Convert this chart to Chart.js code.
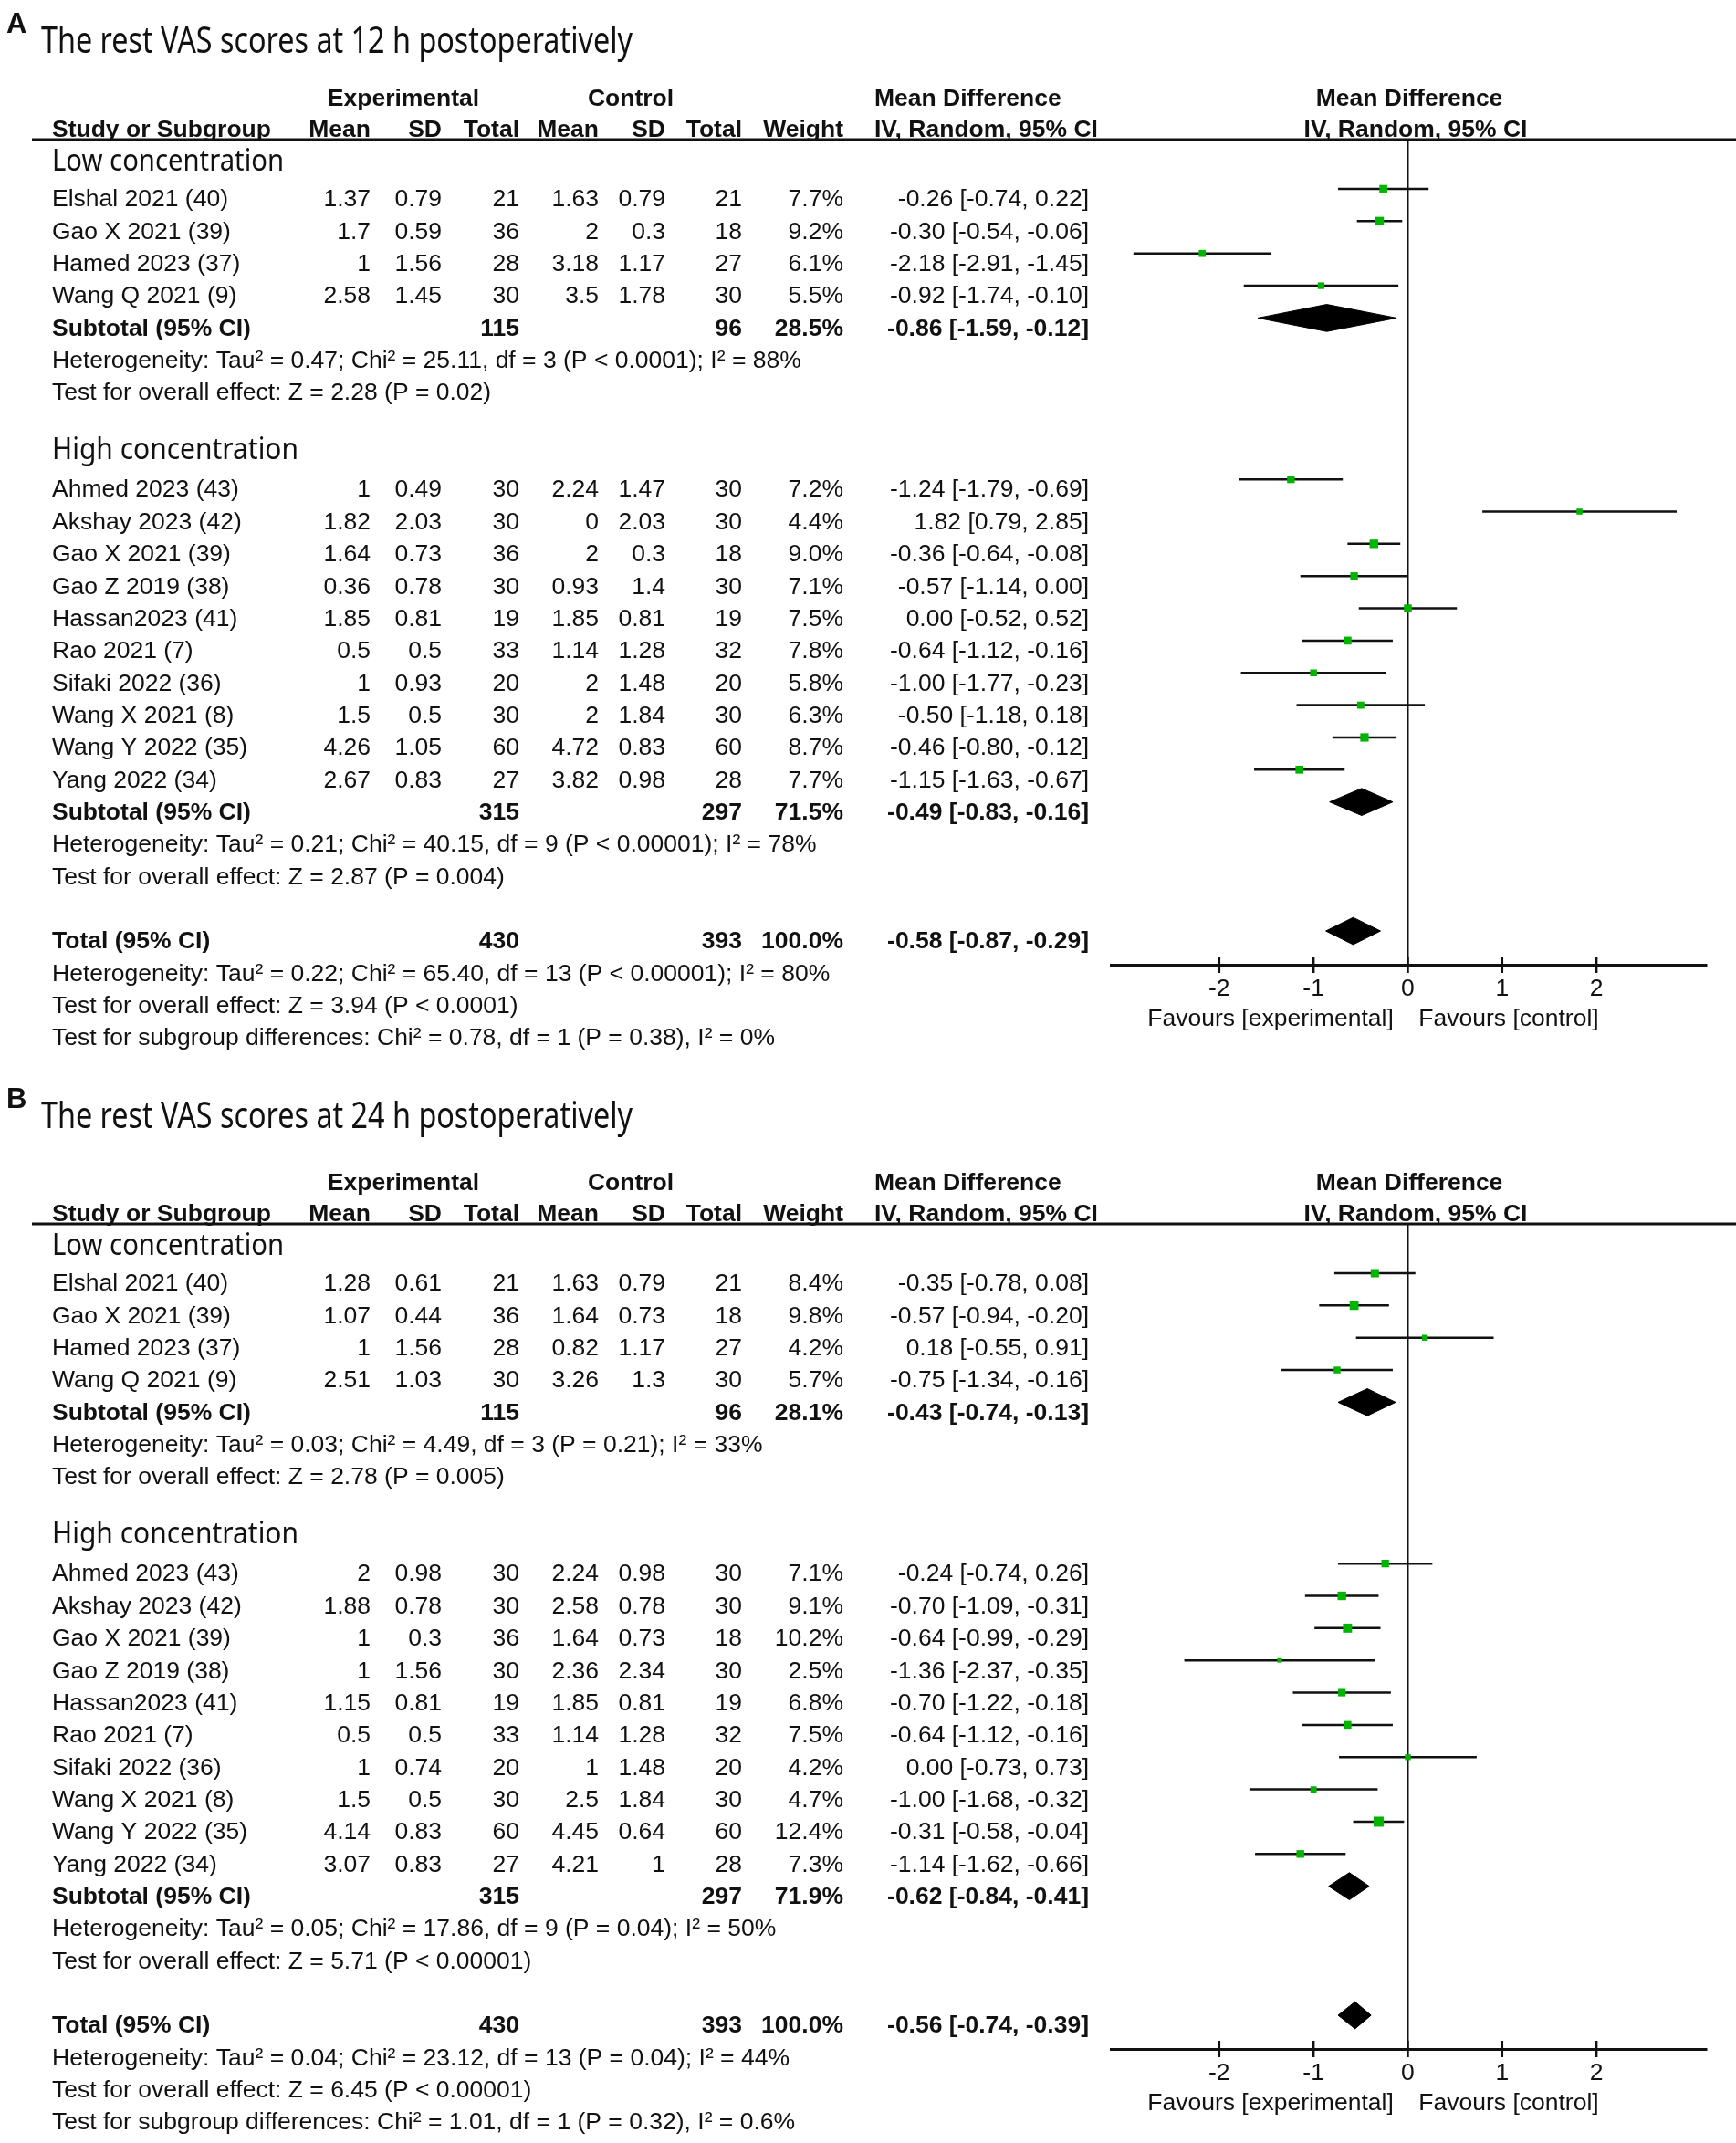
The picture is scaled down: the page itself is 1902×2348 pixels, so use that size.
<!DOCTYPE html>
<html><head><meta charset="utf-8">
<script src="https://cdn.jsdelivr.net/npm/chart.js@4.4.0/dist/chart.umd.min.js"></script>
<style>
html,body{margin:0;padding:0;background:#fff;width:1902px;height:2348px;overflow:hidden}
canvas{position:absolute;left:0}
#cA{top:0}#cB{top:1188px}
</style></head>
<body>
<canvas id="cA" width="1902" height="1188"></canvas>
<canvas id="cB" width="1902" height="1160"></canvas>
<script>
// ---------------- DATA ----------------
const lowNames = ["Elshal 2021 (40)","Gao X 2021 (39)","Hamed 2023 (37)","Wang Q 2021 (9)"];
const highNames = ["Ahmed 2023 (43)","Akshay 2023 (42)","Gao X 2021 (39)","Gao Z 2019 (38)","Hassan2023 (41)","Rao 2021 (7)","Sifaki 2022 (36)","Wang X 2021 (8)","Wang Y 2022 (35)","Yang 2022 (34)"];
const groupNames = ["Low concentration","High concentration"];
const sumLabels = ["Subtotal (95% CI)","Subtotal (95% CI)","Total (95% CI)"];
const xTicks = [-2,-1,0,1,2];
const favourLabels = ["Favours [experimental]","Favours [control]"];

// Panel A : 12 h
const h12Title = "The rest VAS scores at 12 h postoperatively";
const h12ExpMean = [1.37,1.7,1,2.58, 1,1.82,1.64,0.36,1.85,0.5,1,1.5,4.26,2.67];
const h12ExpSD   = [0.79,0.59,1.56,1.45, 0.49,2.03,0.73,0.78,0.81,0.5,0.93,0.5,1.05,0.83];
const h12ExpN    = [21,36,28,30, 30,30,36,30,19,33,20,30,60,27];
const h12CtlMean = [1.63,2,3.18,3.5, 2.24,0,2,0.93,1.85,1.14,2,2,4.72,3.82];
const h12CtlSD   = [0.79,0.3,1.17,1.78, 1.47,2.03,0.3,1.4,0.81,1.28,1.48,1.84,0.83,0.98];
const h12CtlN    = [21,18,27,30, 30,30,18,30,19,32,20,30,60,28];
const h12Weight  = [7.7,9.2,6.1,5.5, 7.2,4.4,9.0,7.1,7.5,7.8,5.8,6.3,8.7,7.7];
const h12MD      = [-0.26,-0.30,-2.18,-0.92, -1.24,1.82,-0.36,-0.57,0.00,-0.64,-1.00,-0.50,-0.46,-1.15];
const h12Lo      = [-0.74,-0.54,-2.91,-1.74, -1.79,0.79,-0.64,-1.14,-0.52,-1.12,-1.77,-1.18,-0.80,-1.63];
const h12Hi      = [0.22,-0.06,-1.45,-0.10, -0.69,2.85,-0.08,0.00,0.52,-0.16,-0.23,0.18,-0.12,-0.67];
const h12SumExpN = [115,315,430];
const h12SumCtlN = [96,297,393];
const h12SumW    = [28.5,71.5,100.0];
const h12SumMD   = [-0.86,-0.49,-0.58];
const h12SumLo   = [-1.59,-0.83,-0.87];
const h12SumHi   = [-0.12,-0.16,-0.29];
const h12Stats = [
  "Heterogeneity: Tau\u00b2 = 0.47; Chi\u00b2 = 25.11, df = 3 (P < 0.0001); I\u00b2 = 88%",
  "Test for overall effect: Z = 2.28 (P = 0.02)",
  "Heterogeneity: Tau\u00b2 = 0.21; Chi\u00b2 = 40.15, df = 9 (P < 0.00001); I\u00b2 = 78%",
  "Test for overall effect: Z = 2.87 (P = 0.004)",
  "Heterogeneity: Tau\u00b2 = 0.22; Chi\u00b2 = 65.40, df = 13 (P < 0.00001); I\u00b2 = 80%",
  "Test for overall effect: Z = 3.94 (P < 0.0001)",
  "Test for subgroup differences: Chi\u00b2 = 0.78, df = 1 (P = 0.38), I\u00b2 = 0%"
];

// Panel B : 24 h
const h24Title = "The rest VAS scores at 24 h postoperatively";
const h24ExpMean = [1.28,1.07,1,2.51, 2,1.88,1,1,1.15,0.5,1,1.5,4.14,3.07];
const h24ExpSD   = [0.61,0.44,1.56,1.03, 0.98,0.78,0.3,1.56,0.81,0.5,0.74,0.5,0.83,0.83];
const h24ExpN    = [21,36,28,30, 30,30,36,30,19,33,20,30,60,27];
const h24CtlMean = [1.63,1.64,0.82,3.26, 2.24,2.58,1.64,2.36,1.85,1.14,1,2.5,4.45,4.21];
const h24CtlSD   = [0.79,0.73,1.17,1.3, 0.98,0.78,0.73,2.34,0.81,1.28,1.48,1.84,0.64,1];
const h24CtlN    = [21,18,27,30, 30,30,18,30,19,32,20,30,60,28];
const h24Weight  = [8.4,9.8,4.2,5.7, 7.1,9.1,10.2,2.5,6.8,7.5,4.2,4.7,12.4,7.3];
const h24MD      = [-0.35,-0.57,0.18,-0.75, -0.24,-0.70,-0.64,-1.36,-0.70,-0.64,0.00,-1.00,-0.31,-1.14];
const h24Lo      = [-0.78,-0.94,-0.55,-1.34, -0.74,-1.09,-0.99,-2.37,-1.22,-1.12,-0.73,-1.68,-0.58,-1.62];
const h24Hi      = [0.08,-0.20,0.91,-0.16, 0.26,-0.31,-0.29,-0.35,-0.18,-0.16,0.73,-0.32,-0.04,-0.66];
const h24SumExpN = [115,315,430];
const h24SumCtlN = [96,297,393];
const h24SumW    = [28.1,71.9,100.0];
const h24SumMD   = [-0.43,-0.62,-0.56];
const h24SumLo   = [-0.74,-0.84,-0.74];
const h24SumHi   = [-0.13,-0.41,-0.39];
const h24Stats = [
  "Heterogeneity: Tau\u00b2 = 0.03; Chi\u00b2 = 4.49, df = 3 (P = 0.21); I\u00b2 = 33%",
  "Test for overall effect: Z = 2.78 (P = 0.005)",
  "Heterogeneity: Tau\u00b2 = 0.05; Chi\u00b2 = 17.86, df = 9 (P = 0.04); I\u00b2 = 50%",
  "Test for overall effect: Z = 5.71 (P < 0.00001)",
  "Heterogeneity: Tau\u00b2 = 0.04; Chi\u00b2 = 23.12, df = 13 (P = 0.04); I\u00b2 = 44%",
  "Test for overall effect: Z = 6.45 (P < 0.00001)",
  "Test for subgroup differences: Chi\u00b2 = 1.01, df = 1 (P = 0.32), I\u00b2 = 0.6%"
];

// ---------------- LAYOUT / STYLE ----------------
const FONT = '"Liberation Sans", Arial, Helvetica, sans-serif';
const TFONT = '"Noto Sans", "Open Sans", sans-serif';
const FS = 26.5;
const INK = '#111';
const GREEN = '#00b400';
const COL = {name:57, mean1:406, sd1:484, n1:569, mean2:656, sd2:729, n2:813, w:924, ci:1193, ciHead:958};
const TEXT_DY = 12;

function fmt(v){ return String(v); }
function f2(v){ return (Math.abs(v) < 1e-9 ? 0 : v).toFixed(2); }
function ciStr(m,l,h){ return f2(m) + ' [' + f2(l) + ', ' + f2(h) + ']'; }

function makePanel(id, letter, title, D, canvasH, titleShift) {
  const nLow = lowNames.length;
  const names = lowNames.concat(highNames);
  const rows = names.map((n,i) => i < nLow ? i : 9 + (i - nLow));
  const sumRows = [4, 19, 23];
  const statRows = [5, 6, 20, 21, 24, 25, 26];
  const headRows = [-1.19, 7.75];

  const ciData = [];
  names.forEach((n,i) => {
    ciData.push({x: D.lo[i], y: rows[i]}, {x: D.hi[i], y: rows[i]}, {x: D.hi[i], y: null});
  });
  const sqData = names.map((n,i) => ({x: D.md[i], y: rows[i]}));
  const sqRad = D.w.map(w => 2.2 * Math.sqrt(w));
  const H = 0.42;
  const diamonds = sumRows.map((k, j) => ({
    type: 'line',
    data: [{x: D.sLo[j], y: k}, {x: D.sMD[j], y: k - H}, {x: D.sHi[j], y: k}, {x: D.sMD[j], y: k + H}, {x: D.sLo[j], y: k}],
    borderColor: '#000', borderWidth: 1, backgroundColor: '#000', fill: 'shape',
    pointRadius: 0, tension: 0
  }));

  const textPlugin = {
    id: 'forestText' + id,
    afterDraw(chart) {
      const ctx = chart.ctx;
      const ys = chart.scales.y, xs = chart.scales.x, ca = chart.chartArea;
      const ty = k => ys.getPixelForValue(k) + TEXT_DY;
      ctx.save();
      ctx.fillStyle = INK;
      ctx.textBaseline = 'middle';
      const t = (s, x, y, align, bold, size, family) => {
        ctx.font = (bold ? 'bold ' : '') + (size || FS) + 'px ' + (family || FONT);
        ctx.textAlign = align; ctx.fillText(s, x, y);
      };
      const fit = (s, x, y, size, w, bold) => {
        ctx.save();
        ctx.font = (bold ? 'bold ' : '') + size + 'px ' + TFONT;
        const m = ctx.measureText(s).width;
        ctx.translate(x, y); ctx.scale(w / m, 1);
        ctx.textAlign = 'left'; ctx.textBaseline = 'alphabetic';
        ctx.fillText(s, 0, 0); ctx.restore();
      };
      // panel letter + title
      ctx.textBaseline = 'alphabetic';
      t(letter, 7, 36 + titleShift, 'left', true, 31);
      fit(title, 45, 58 + titleShift, 40, 648, false);
      ctx.textBaseline = 'middle';
      // headers
      const h1 = ty(-3.07) - 2, h2 = ty(-2.1) - 2;
      t('Experimental', 442, h1, 'center', true);
      t('Control', 691, h1, 'center', true);
      t('Mean Difference', COL.ciHead, h1, 'left', true);
      t('Mean Difference', 1544, h1, 'center', true);
      t('Study or Subgroup', COL.name, h2, 'left', true);
      t('Mean', COL.mean1, h2, 'right', true);
      t('SD', COL.sd1, h2, 'right', true);
      t('Total', COL.n1, h2, 'right', true);
      t('Mean', COL.mean2, h2, 'right', true);
      t('SD', COL.sd2, h2, 'right', true);
      t('Total', COL.n2, h2, 'right', true);
      t('Weight', COL.w, h2, 'right', true);
      t('IV, Random, 95% CI', COL.ciHead, h2, 'left', true);
      t('IV, Random, 95% CI', 1551, h2, 'center', true);
      // header rule
      ctx.strokeStyle = INK; ctx.lineWidth = 3;
      ctx.beginPath(); ctx.moveTo(35, ca.top); ctx.lineTo(1902, ca.top); ctx.stroke();
      // group headings
      ctx.textBaseline = 'alphabetic';
      fit(groupNames[0], COL.name, ty(headRows[0]) + 10, 33, 254, false);
      fit(groupNames[1], COL.name, ty(headRows[1]) + 10, 33, 270, false);
      ctx.textBaseline = 'middle';
      // study rows
      names.forEach((n, i) => {
        const y = ty(rows[i]);
        t(n, COL.name, y, 'left');
        t(fmt(D.em[i]), COL.mean1, y, 'right');
        t(fmt(D.es[i]), COL.sd1, y, 'right');
        t(fmt(D.en[i]), COL.n1, y, 'right');
        t(fmt(D.cm[i]), COL.mean2, y, 'right');
        t(fmt(D.cs[i]), COL.sd2, y, 'right');
        t(fmt(D.cn[i]), COL.n2, y, 'right');
        t(D.w[i].toFixed(1) + '%', COL.w, y, 'right');
        t(ciStr(D.md[i], D.lo[i], D.hi[i]), COL.ci, y, 'right');
      });
      // summary rows
      sumRows.forEach((k, j) => {
        const y = ty(k);
        t(sumLabels[j], COL.name, y, 'left', true);
        t(fmt(D.sEN[j]), COL.n1, y, 'right', true);
        t(fmt(D.sCN[j]), COL.n2, y, 'right', true);
        t(D.sW[j].toFixed(1) + '%', COL.w, y, 'right', true);
        t(ciStr(D.sMD[j], D.sLo[j], D.sHi[j]), COL.ci, y, 'right', true);
      });
      // statistics
      statRows.forEach((k, j) => t(D.stats[j], COL.name, ty(k), 'left'));
      // crossing tick marks
      ctx.lineWidth = 2.5;
      xTicks.forEach(v => {
        const X = xs.getPixelForValue(v);
        ctx.beginPath(); ctx.moveTo(X, ca.bottom - 9); ctx.lineTo(X, ca.bottom + 9); ctx.stroke();
      });
      // favours labels
      t(favourLabels[0], 1392, ca.bottom + 60, 'center');
      t(favourLabels[1], 1653, ca.bottom + 60, 'center');
      ctx.restore();
    }
  };

  const AXH = 60;
  return new Chart(document.getElementById(id), {
    type: 'line',
    data: {
      datasets: [
        { type: 'line', data: sqData, showLine: false, pointStyle: 'rect', pointRadius: sqRad,
          pointBackgroundColor: GREEN, pointBorderWidth: 0, pointBorderColor: GREEN },
        ...diamonds,
        { type: 'line', data: ciData, borderColor: INK, borderWidth: 2.5, pointRadius: 0,
          spanGaps: false, fill: false, tension: 0 }
      ]
    },
    options: {
      responsive: false, animation: false, events: [],
      layout: { padding: { left: 1217, right: 33, top: 153, bottom: canvasH - 1057 - AXH } },
      plugins: { legend: { display: false }, tooltip: { enabled: false } },
      scales: {
        x: {
          type: 'linear', min: -3.15, max: 3.16,
          afterBuildTicks: s => { s.ticks = xTicks.map(v => ({ value: v })); },
          afterFit: s => { s.height = AXH; },
          grid: { drawOnChartArea: true, drawTicks: false, lineWidth: 2.5,
                  color: c => (c.tick && c.tick.value === 0) ? INK : 'rgba(0,0,0,0)' },
          border: { display: true, color: INK, width: 3 },
          ticks: { padding: 11, color: INK, font: { family: FONT, size: FS }, callback: v => String(v) }
        },
        y: { type: 'linear', display: false, reverse: true, min: -1.5276, max: 24.045 }
      }
    },
    plugins: [textPlugin]
  });
}

makePanel('cA', 'A', h12Title, {
  em: h12ExpMean, es: h12ExpSD, en: h12ExpN, cm: h12CtlMean, cs: h12CtlSD, cn: h12CtlN,
  w: h12Weight, md: h12MD, lo: h12Lo, hi: h12Hi,
  sEN: h12SumExpN, sCN: h12SumCtlN, sW: h12SumW, sMD: h12SumMD, sLo: h12SumLo, sHi: h12SumHi,
  stats: h12Stats
}, 1188, 0);

makePanel('cB', 'B', h24Title, {
  em: h24ExpMean, es: h24ExpSD, en: h24ExpN, cm: h24CtlMean, cs: h24CtlSD, cn: h24CtlN,
  w: h24Weight, md: h24MD, lo: h24Lo, hi: h24Hi,
  sEN: h24SumExpN, sCN: h24SumCtlN, sW: h24SumW, sMD: h24SumMD, sLo: h24SumLo, sHi: h24SumHi,
  stats: h24Stats
}, 1160, -10.5);
</script>
</body></html>
